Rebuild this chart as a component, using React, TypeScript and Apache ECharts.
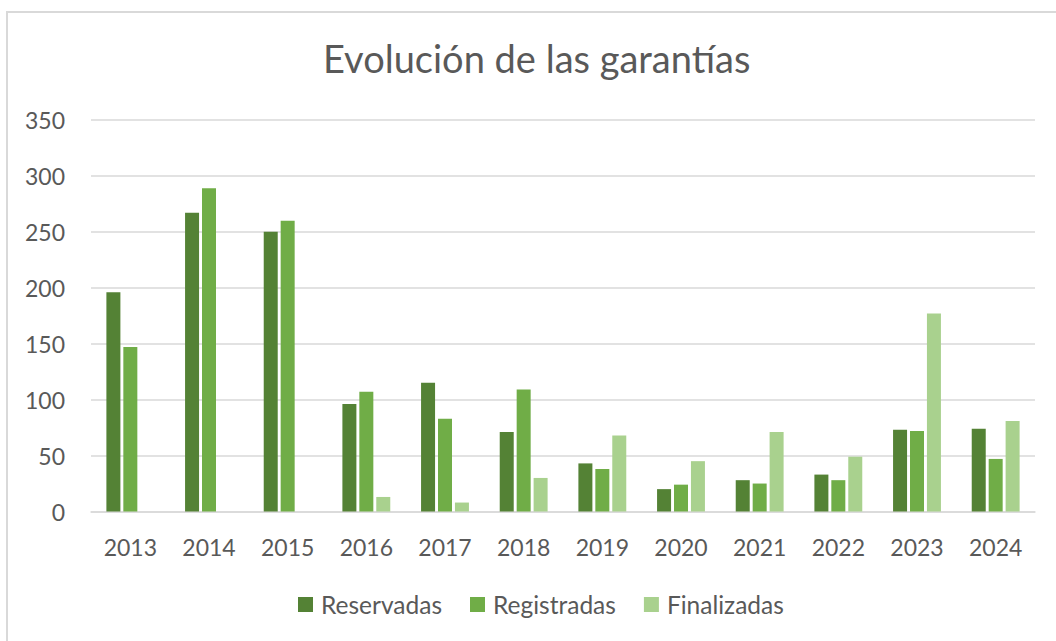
import React, { useEffect, useRef } from "react";
import * as echarts from "echarts";

const years = ["2013", "2014", "2015", "2016", "2017", "2018", "2019", "2020", "2021", "2022", "2023", "2024"];
const reservadas = [196, 267, 250, 96, 115, 71, 43, 20, 28, 33, 73, 74];
const registradas = [147, 289, 260, 107, 83, 109, 38, 24, 25, 28, 72, 47];
const finalizadas = [null, null, null, 13, 8, 30, 68, 45, 71, 49, 177, 81];
const seriesNames = ["Reservadas", "Registradas", "Finalizadas"];
const colors = ["#548235", "#70AD47", "#A9D18E"];

const FONT = "Lato, 'Open Sans', sans-serif";
const TXT = "#595959";

export default function App() {
  const ref = useRef<HTMLDivElement>(null);
  useEffect(() => {
    if (!ref.current) return;
    const chart = echarts.init(ref.current, undefined, { renderer: "svg" });
    const data = [reservadas, registradas, finalizadas];
    chart.setOption({
      animation: false,
      backgroundColor: "#ffffff",
      textStyle: { fontFamily: FONT },
      title: {
        text: "Evolución de las garantías",
        left: 323,
        top: 39,
        padding: 0,
        textStyle: { fontFamily: FONT, fontSize: 38, fontWeight: "normal", color: TXT },
      },
      graphic: [
        {
          type: "rect",
          shape: { x: 7, y: 12, width: 1200, height: 800 },
          style: { fill: "none", stroke: "#d9d9d9", lineWidth: 2 },
          silent: true,
        },
      ],
      legend: {
        bottom: 24,
        left: 298,
        padding: 0,
        itemWidth: 15,
        itemHeight: 15,
        itemGap: 28,
        icon: "rect",
        data: seriesNames,
        textStyle: { fontFamily: FONT, fontSize: 24.5, color: TXT, padding: [0, 0, 0, 3] },
      },
      grid: { left: 91, right: 21, top: 120, bottom: 129.5 },
      xAxis: {
        type: "category",
        data: years,
        axisLine: { show: true, lineStyle: { color: "#d9d9d9", width: 1.5 } },
        axisTick: { show: false },
        axisLabel: { fontFamily: FONT, fontSize: 23, color: TXT, margin: 24 },
      },
      yAxis: {
        type: "value",
        min: 0,
        max: 350,
        interval: 50,
        axisLine: { show: false },
        axisTick: { show: false },
        splitLine: { lineStyle: { color: "#d9d9d9", width: 1.5 } },
        axisLabel: { fontFamily: FONT, fontSize: 23, color: TXT, margin: 26 },
      },
      series: seriesNames.map((name, i) => ({
        name,
        type: "bar",
        data: data[i],
        barWidth: 14,
        barGap: "21%",
        itemStyle: { color: colors[i] },
      })),
    });
    return () => chart.dispose();
  }, []);
  return (
    <div
      ref={ref}
      style={{ position: "fixed", left: 0, top: 0, width: 1056, height: 641 }}
    />
  );
}
